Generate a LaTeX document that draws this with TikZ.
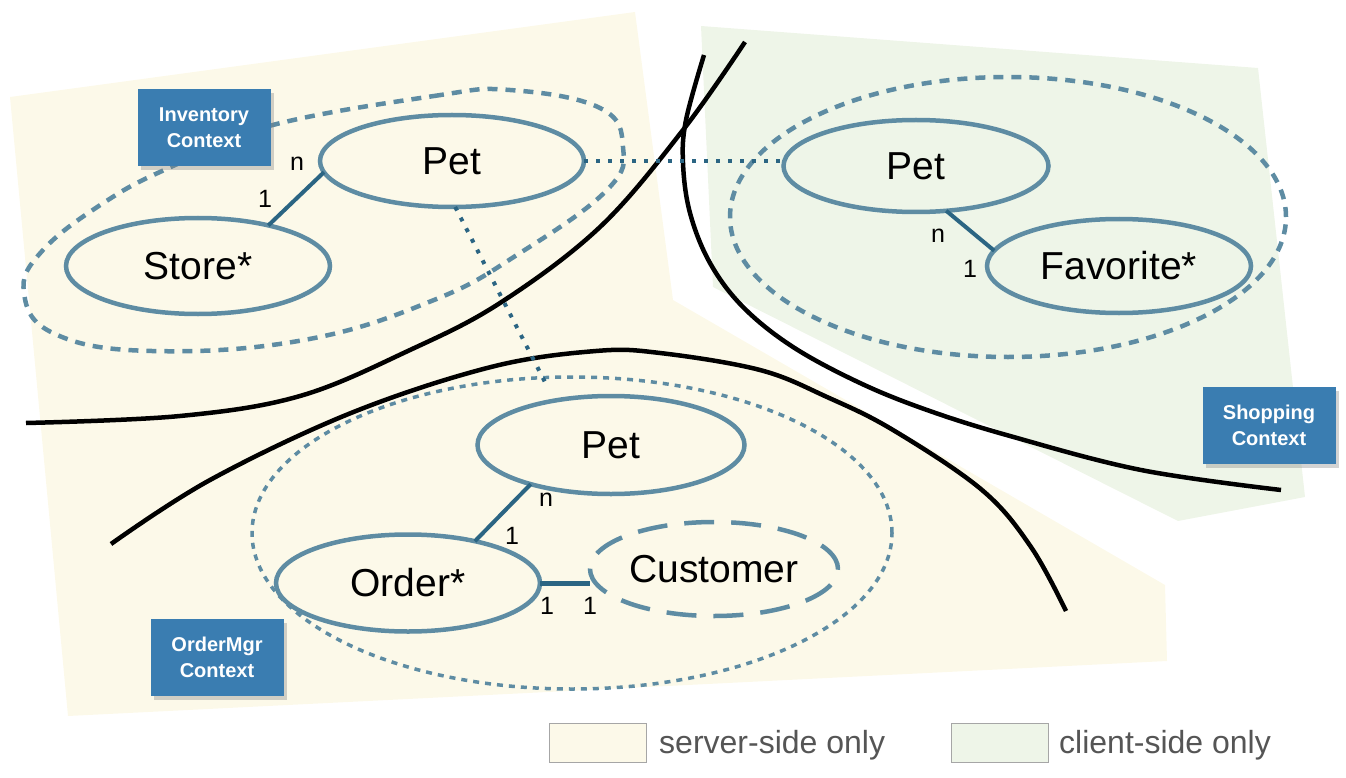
\documentclass[tikz,border=0pt]{standalone}
\usepackage{fontspec}
\setmainfont{Liberation Sans}
\usetikzlibrary{shapes.geometric,shadows}
\definecolor{srv}{HTML}{FCF9E9}
\definecolor{cli}{HTML}{EEF5E8}
\definecolor{ent}{HTML}{5E8CA3}
\definecolor{lnk}{HTML}{2B6583}
\definecolor{ctx}{HTML}{3A7DB1}
\definecolor{leg}{HTML}{555555}
\tikzset{
  entity/.style={ellipse, draw=ent, line width=4.5pt, inner sep=0pt, outer sep=0pt,
    font=\fontsize{39}{44}\selectfont},
  ctxline/.style={draw=ent, line width=4.5pt, dash pattern=on 10pt off 8pt},
  ctxfine/.style={draw=ent, line width=3.5pt, dash pattern=on 6pt off 6pt},
  custline/.style={draw=ent, line width=4.5pt, dash pattern=on 30pt off 17pt},
  boundary/.style={draw=black, line width=4.5pt},
  link/.style={draw=lnk, line width=4pt},
  xref/.style={draw=lnk, line width=4pt, dash pattern=on 4pt off 8pt},
  mult/.style={font=\fontsize{25}{28}\selectfont, inner sep=0pt},
  ctxbox/.style={fill=ctx, text=white, minimum width=133pt, minimum height=77pt,
    align=center, inner sep=0pt, font=\bfseries\fontsize{20}{26}\selectfont,
    drop shadow={shadow xshift=3pt, shadow yshift=-4pt, opacity=0.35}},
  legbox/.style={draw=gray!70, line width=1.5pt, minimum width=97pt, minimum height=39pt, inner sep=0pt},
  legtext/.style={text=leg, font=\fontsize{32}{36}\selectfont, anchor=west, inner sep=0pt}
}
\begin{document}
\begin{tikzpicture}[x=1pt,y=-1pt]
\useasboundingbox (0,0) rectangle (1346,778);
% regions
\fill[srv] (10,97) -- (635,12) -- (673,300) -- (1165,585) -- (1167,661) -- (68,716) -- cycle;
\fill[cli] (701,26) -- (1258,68) -- (1305,497) -- (1178,521) -- (713,287) -- cycle;
% boundaries
\draw[boundary] plot[smooth, tension=0.6] coordinates {(745,42) (683,130) (600,227) (500,303) (410,350) (300,396) (180,416) (26,423)};
\draw[boundary] plot[smooth, tension=0.6] coordinates {(111,544) (210,480) (351,413) (491,367) (596,351) (660,353) (760,370) (827,397) (893,430) (982,490) (1031,547) (1066,611)};
\draw[boundary] plot[smooth, tension=0.6] coordinates {(704,55) (686,120) (683,163) (690,213) (710,263) (743,307) (793,347) (860,383) (927,410) (1010,436) (1141,470) (1281,490)};
% context boundaries
\draw[ctxline] plot[smooth cycle, tension=0.7] coordinates {(269,126) (434,96) (510,90) (600,108) (623,147) (607,190) (520,253) (434,300) (304,340) (152,351) (55,334) (24,293) (43,250) (108,200) (173,166)};
\draw[ctxline] (1008,217) ellipse [x radius=278pt, y radius=140pt];
\draw[ctxfine] (572,533) ellipse [x radius=320pt, y radius=156pt];
% entities
\node[entity, minimum width=264pt, minimum height=92pt] (ipet) at (452,161) {Pet};
\node[entity, minimum width=264pt, minimum height=96pt] (store) at (198,266) {Store*};
\node[entity, minimum width=265pt, minimum height=92pt] (spet) at (916,166) {Pet};
\node[entity, minimum width=264pt, minimum height=94pt] (fav) at (1119,266) {Favorite*};
\node[entity, minimum width=267pt, minimum height=98pt] (opet) at (611,445) {Pet};
\node[entity, minimum width=264pt, minimum height=97pt] (order) at (408,583) {Order*};
\node[ellipse, custline, minimum width=248pt, minimum height=94pt, inner sep=0pt, outer sep=0pt,
  font=\fontsize{39}{44}\selectfont] (cust) at (714,569) {Customer};
% links
\draw[link] (store.30) -- (ipet.185);
\draw[link] (spet.304) -- (fav.173);
\draw[link] (opet.206) -- (order.32);
\draw[link, line width=5pt] (order.east) -- (order.east -| cust.west);
\node[mult] (m1) at (297,164) {n};
\node[mult] (m2) at (265,199) {1};
\node[mult] (m3) at (938,236) {n};
\node[mult] (m4) at (970,269) {1};
\node[mult] (m5) at (546,500) {n};
\node[mult] (m6) at (512,536) {1};
\node[mult] (m7) at (547,606) {1};
\node[mult] (m8) at (590,606) {1};
% cross references
\coordinate (dend) at (547,386);
\draw[xref] (ipet.east) -- (ipet.east -| spet.west);
\draw[xref] (ipet.-86) -- (dend);
% context labels
\node[ctxbox] (cinv) at (204,128) {Inventory\\Context};
\node[ctxbox] (cshop) at (1269,425) {Shopping\\Context};
\node[ctxbox] (cord) at (217,657) {OrderMgr\\Context};
% legend
\node[legbox, fill=srv] (ls) at (598,743) {};
\node[legtext] (lst) at (659,745) {server-side only};
\node[legbox, fill=cli] (lc) at (1000,743) {};
\node[legtext] (lct) at (1059,745) {client-side only};
\end{tikzpicture}
\end{document}
